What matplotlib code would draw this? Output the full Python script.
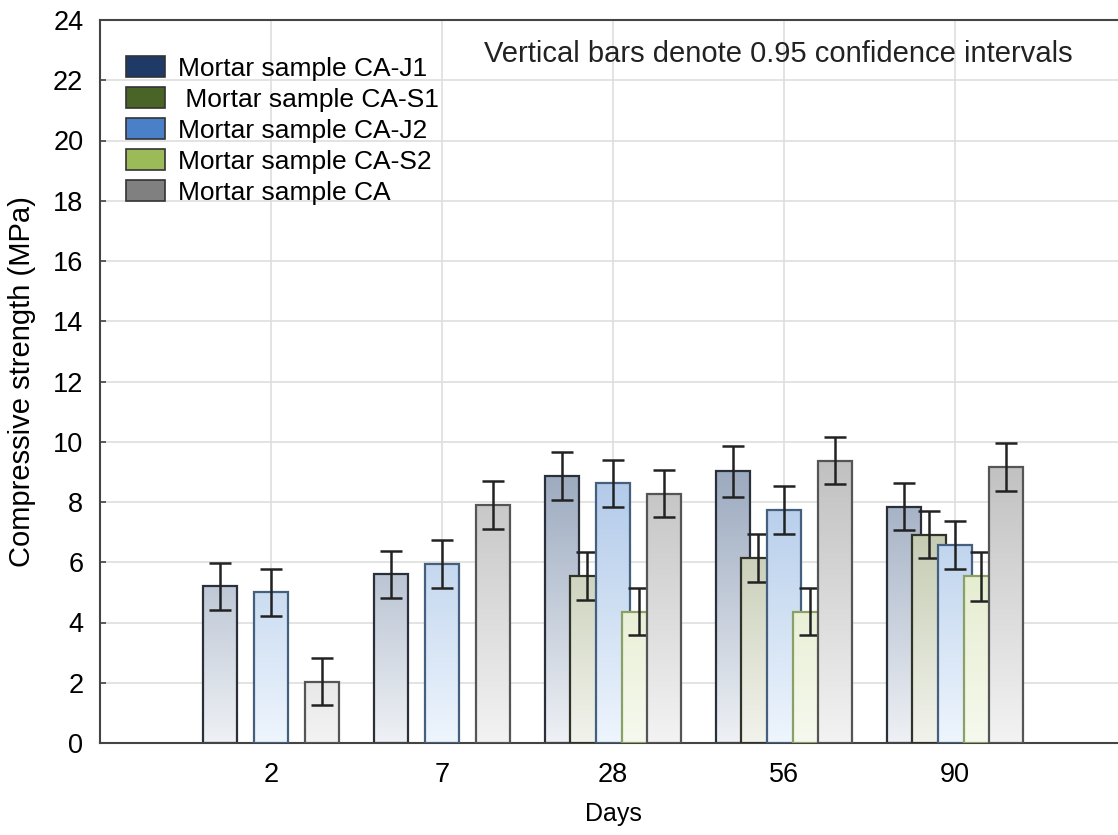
import numpy as np
import matplotlib
matplotlib.use("Agg")
import matplotlib.pyplot as plt
from matplotlib.colors import LinearSegmentedColormap

plt.rcParams['font.family'] = ['Liberation Sans', 'DejaVu Sans']

# data
days = ['2', '7', '28', '56', '90']
labels = ['Mortar sample CA-J1', ' Mortar sample CA-S1', 'Mortar sample CA-J2',
          'Mortar sample CA-S2', 'Mortar sample CA']
ca_j1 = [5.20, 5.60, 8.85, 9.02, 7.85]
ca_s1 = [np.nan, np.nan, 5.55, 6.13, 6.92]
ca_j2 = [5.00, 5.93, 8.62, 7.73, 6.57]
ca_s2 = [np.nan, np.nan, 4.36, 4.36, 5.53]
ca = [2.04, 7.89, 8.28, 9.37, 9.16]
ci_j1 = [0.79, 0.79, 0.80, 0.84, 0.79]
ci_s1 = [np.nan, np.nan, 0.79, 0.80, 0.78]
ci_j2 = [0.79, 0.80, 0.79, 0.80, 0.80]
ci_s2 = [np.nan, np.nan, 0.79, 0.79, 0.80]
ci_ca = [0.79, 0.80, 0.79, 0.78, 0.80]

series = [ca_j1, ca_s1, ca_j2, ca_s2, ca]
cis = [ci_j1, ci_s1, ci_j2, ci_s2, ci_ca]

legend_cols = ['#1f3a66', '#4a6326', '#4a80c8', '#9bbb59', '#808080']
grad_top = ['#93a2b9', '#b2bb9a', '#a9c4e6', '#d8e4b8', '#bdbdbd']
grad_bot = ['#eef1f5', '#f2f3ec', '#eef5fd', '#f6f9ee', '#f3f3f3']
edge_cols = ['#2b2f3a', '#2f3328', '#44607e', '#8aa064', '#555555']

W, H = 1118, 835
fig = plt.figure(figsize=(W / 100, H / 100), dpi=100)
ax = fig.add_axes([100 / W, (H - 743) / H, 1026 / W, 723 / H])

x = np.arange(len(days))
width = 0.2
step = 0.15
gmax = 10.0
grad = np.linspace(1, 0, 256).reshape(-1, 1)

for k, (vals, ci) in enumerate(zip(series, cis)):
    cmap = LinearSegmentedColormap.from_list('g%d' % k, [grad_bot[k], grad_top[k]])
    xs = x + (k - 2) * step
    z = 2 + 2 * k
    for xi, v, e in zip(xs, vals, ci):
        if np.isnan(v):
            continue
        bar = ax.bar(xi, v, width=width, facecolor='none', edgecolor=edge_cols[k],
                     linewidth=1.6, zorder=z + 0.5)[0]
        im = ax.imshow(grad, cmap=cmap, vmin=0, vmax=1, aspect='auto',
                       extent=[xi - width / 2, xi + width / 2, 0, gmax], zorder=z)
        im.set_clip_path(bar)
        ax.errorbar(xi, v, yerr=e, fmt='none', ecolor='#222222', elinewidth=1.8,
                    capsize=8, capthick=1.8, zorder=z + 1)

# legend proxies
for k in range(5):
    ax.bar(0, 0, color=legend_cols[k], edgecolor='#333333', linewidth=1.2, label=labels[k])

ax.set_xlim(-1, 5)
ax.set_ylim(0, 24)
ax.set_xticks(x)
ax.set_xticklabels(days)
ax.set_yticks(np.arange(0, 25, 2))
ax.grid(True, color='#dedede', linewidth=1.2, zorder=0)
ax.set_axisbelow(True)
ax.tick_params(direction='in', length=4, width=1.2, color='#444444',
               labelsize=19.5, pad=14)
ax.tick_params(axis='y', pad=12)
for s in ax.spines.values():
    s.set_color('#444444')
    s.set_linewidth(1.5)

ax.set_ylabel('Compressive strength (MPa)', fontsize=21, labelpad=12)
ax.set_xlabel('Days', fontsize=18, labelpad=10)

leg = ax.legend(loc='upper left', bbox_to_anchor=(126 / W, 1 - 56 / H),
                bbox_transform=fig.transFigure, frameon=False, fontsize=19,
                handlelength=1.48, handleheight=0.87, handletextpad=0.5,
                labelspacing=0.235, borderaxespad=0, borderpad=0)

fig.text(484 / W, 1 - 54 / H, 'Vertical bars denote 0.95 confidence intervals',
         fontsize=21, ha='left', va='center', color='#222222')

fig.savefig('out.png', dpi=100)
